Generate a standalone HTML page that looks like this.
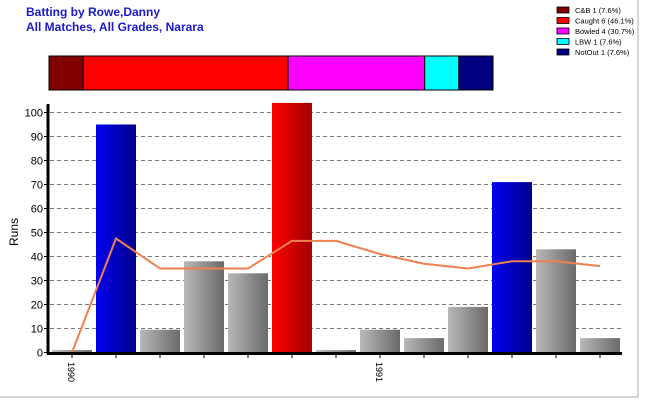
<!DOCTYPE html>
<html><head><meta charset="utf-8"><style>
body{margin:0;background:#fff;font-family:"Liberation Sans",sans-serif}
</style></head><body>
<svg width="650" height="400" xmlns="http://www.w3.org/2000/svg">
<defs>
<linearGradient id="gGrey" x1="0" x2="1"><stop offset="0" stop-color="#b8b8b8"/><stop offset="1" stop-color="#6a6a6a"/></linearGradient>
<linearGradient id="gBlue" x1="0" x2="1"><stop offset="0" stop-color="#0000f0"/><stop offset="1" stop-color="#00008a"/></linearGradient>
<linearGradient id="gRed" x1="0" x2="1"><stop offset="0" stop-color="#ff0000"/><stop offset="1" stop-color="#a00000"/></linearGradient>
</defs>
<rect x="0" y="0" width="650" height="400" fill="#fff"/>
<line x1="638" y1="0" x2="638" y2="397" stroke="#aaa"/>
<line x1="0" y1="397" x2="638" y2="397" stroke="#aaa"/>
<text x="26" y="16" fill="#1a1acc" font-size="12" font-weight="bold">Batting by Rowe,Danny</text>
<text x="26" y="31" fill="#1a1acc" font-size="12" font-weight="bold">All Matches, All Grades, Narara</text>
<g id="dismissals"></g>
<g id="legend"></g>
<g id="grid"></g>
<g id="bars"></g>
<g id="avg"></g>
<g id="axes"></g>
<text transform="translate(18,232) rotate(-90)" text-anchor="middle" font-size="12" fill="#000">Runs</text>
</svg>
<script>
const runs=[1,95,9.5,38,33,104,1,9.5,6,19,71,43,6];
const barKinds=["grey","blue","grey","grey","grey","red","grey","grey","grey","grey","blue","grey","grey"];
const average=[0,47.5,35,35,35,46.5,46.5,41,37,35,38,38,36];
const xLabels=["1990","","","","","","","1991","","","","",""];
const yTicks=[0,10,20,30,40,50,60,70,80,90,100];
const dismissNames=["C&B 1 (7.6%)","Caught 6 (46.1%)","Bowled 4 (30.7%)","LBW 1 (7.6%)","NotOut 1 (7.6%)"];
const dismissCounts=[1,6,4,1,1];
const dismissColors=["#800000","#ff0000","#ff00ff","#00ffff","#000080"];
const NS="http://www.w3.org/2000/svg";
function mk(p,t,a){const e=document.createElementNS(NS,t);for(const k in a)e.setAttribute(k,a[k]);p.appendChild(e);return e;}
const y0=352.5,pxPer=2.4,x0=50,slot=44;
const Y=v=>y0-v*pxPer, X=i=>x0+slot*i+slot/2;
// dismissal bar
const dg=document.getElementById('dismissals');const total=dismissCounts.reduce((a,b)=>a+b,0);
let cx=49;const dw=444;
dismissCounts.forEach((c,i)=>{const w=dw*c/total;const r=mk(dg,'rect',{x:cx,y:56,width:w,height:34,fill:dismissColors[i],stroke:'#000','stroke-width':1});

cx+=w;});
const lg=document.getElementById('legend');
dismissNames.forEach((n,i)=>{const yy=7+i*10.5;
const r=mk(lg,'rect',{x:557,y:yy,width:12,height:6,fill:dismissColors[i],stroke:'#000','stroke-width':0.8});


const t=mk(lg,'text',{x:575,y:yy+6,'font-size':7.5,fill:'#000'});t.textContent=n;

});
const gg=document.getElementById('grid');
yTicks.forEach(v=>{if(v>0){const l=mk(gg,'line',{x1:50,x2:622,y1:Y(v),y2:Y(v),stroke:'#777','stroke-dasharray':'4,3'});

}
const t=mk(gg,'text',{x:43,y:Y(v)+4,'text-anchor':'end','font-size':11,fill:'#000'});t.textContent=v;


mk(gg,'line',{x1:44,x2:48,y1:Y(v),y2:Y(v),stroke:'#000'});});
const bg=document.getElementById('bars');
const fills={grey:'url(#gGrey)',blue:'url(#gBlue)',red:'url(#gRed)'};
runs.forEach((v,i)=>{const top=Math.max(Y(v),102);const r=mk(bg,'rect',{x:X(i)-20,y:top,width:40,height:y0-top,fill:fills[barKinds[i]]});

});
const ag=document.getElementById('avg');
const pl=mk(ag,'polyline',{points:average.map((v,i)=>X(i)+','+Y(v)).join(' '),fill:'none',stroke:'#f08050','stroke-width':2});


const ax=document.getElementById('axes');
mk(ax,'line',{x1:48,x2:48,y1:104,y2:354,stroke:'#000','stroke-width':3});
mk(ax,'line',{x1:47,x2:622,y1:353.5,y2:353.5,stroke:'#000','stroke-width':3});
runs.forEach((v,i)=>{mk(ax,'line',{x1:X(i),x2:X(i),y1:354,y2:358,stroke:'#000'});
if(xLabels[i]){const t=mk(ax,'text',{transform:`translate(${X(i)-4},362) rotate(90)`,'font-size':9,fill:'#000'});t.textContent=xLabels[i];

}});
</script>
</body></html>
